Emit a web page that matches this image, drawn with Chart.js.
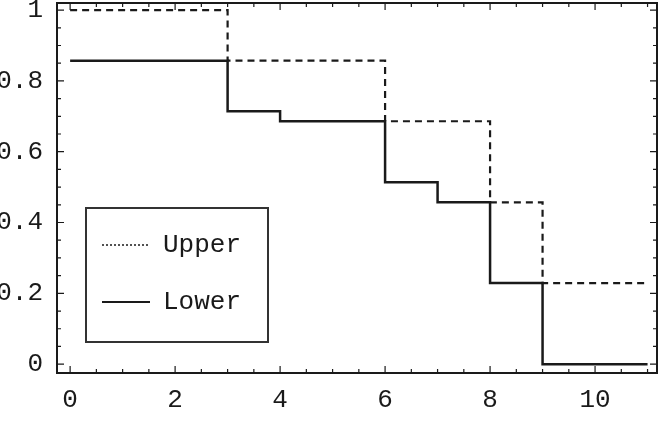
<!DOCTYPE html>
<html>
<head>
<meta charset="utf-8">
<script src="https://cdn.jsdelivr.net/npm/chart.js@4/dist/chart.umd.min.js"></script>
<style>
  html, body { margin: 0; padding: 0; background: #fff; }
  #wrap { width: 661px; height: 422px; }
</style>
</head>
<body>
<div id="wrap"><canvas id="steps"></canvas></div>
<script>
// Bornes superieure / inferieure (fonctions en escalier)
const upperX = [0, 3, 6, 8, 9, 11];
const upperY = [1, 0.857, 0.686, 0.457, 0.229, 0.229];
const lowerX = [0, 3, 4, 6, 7, 8, 9, 11];
const lowerY = [0.857, 0.714, 0.686, 0.514, 0.457, 0.229, 0, 0];
const xTicks = [0, 2, 4, 6, 8, 10];
const yTicks = [0, 0.2, 0.4, 0.6, 0.8, 1];
const seriesNames = ['Upper', 'Lower'];

const FONT = "'Liberation Mono', 'DejaVu Sans Mono', monospace";
const ink = '#1a1a1a';

// cadre + petites graduations vers l'interieur
const framePlugin = {
  id: 'frame',
  afterDraw(chart) {
    const { ctx, chartArea: a, scales } = chart;
    const xs = scales.x, ys = scales.y;
    ctx.save();
    ctx.strokeStyle = ink;
    ctx.lineWidth = 2;
    ctx.strokeRect(a.left, a.top, a.right - a.left, a.bottom - a.top);
    ctx.lineWidth = 1.2;
    for (let v = 0; v <= 11.01; v += 0.5) {
      const px = xs.getPixelForValue(v);
      const len = (Math.abs(v % 2) < 0.01) ? 7 : 4;
      ctx.beginPath();
      ctx.moveTo(px, a.bottom); ctx.lineTo(px, a.bottom - len);
      ctx.moveTo(px, a.top); ctx.lineTo(px, a.top + len);
      ctx.stroke();
    }
    for (let i = 0; i <= 20; i++) {
      const py = ys.getPixelForValue(i * 0.05);
      const len = (i % 4 === 0) ? 7 : 4;
      ctx.beginPath();
      ctx.moveTo(a.left, py); ctx.lineTo(a.left + len, py);
      ctx.moveTo(a.right, py); ctx.lineTo(a.right - len, py);
      ctx.stroke();
    }
    ctx.restore();
  }
};

// legende dans le graphe
const legendBox = {
  id: 'legendBox',
  afterDraw(chart) {
    const ctx = chart.ctx;
    ctx.save();
    ctx.fillStyle = '#fff';
    ctx.fillRect(86, 208, 182, 134);
    ctx.strokeStyle = '#333';
    ctx.lineWidth = 2;
    ctx.strokeRect(86, 208, 182, 134);
    ctx.strokeStyle = ink;
    ctx.lineWidth = 1.5;
    ctx.setLineDash([2, 2]);
    ctx.beginPath(); ctx.moveTo(102, 245); ctx.lineTo(150, 245); ctx.stroke();
    ctx.setLineDash([]);
    ctx.lineWidth = 2;
    ctx.beginPath(); ctx.moveTo(102, 302); ctx.lineTo(150, 302); ctx.stroke();
    ctx.fillStyle = ink;
    ctx.font = '26px ' + FONT;
    ctx.textBaseline = 'middle';
    ctx.fillText(seriesNames[0], 163, 245);
    ctx.fillText(seriesNames[1], 163, 302);
    ctx.restore();
  }
};

new Chart(document.getElementById('steps'), {
  type: 'line',
  data: {
    datasets: [{
      label: seriesNames[0],
      data: upperX.map((x, i) => ({ x: x, y: upperY[i] })),
      borderColor: ink,
      borderWidth: 2.2,
      borderDash: [7, 5],
      stepped: 'before',
      pointRadius: 0,
      fill: false
    }, {
      label: seriesNames[1],
      data: lowerX.map((x, i) => ({ x: x, y: lowerY[i] })),
      borderColor: ink,
      borderWidth: 2.5,
      stepped: 'before',
      pointRadius: 0,
      fill: false
    }]
  },
  options: {
    responsive: true,
    maintainAspectRatio: false,
    animation: false,
    layout: { autoPadding: false, padding: { top: 3, right: 4, left: 0, bottom: 0 } },
    plugins: { legend: { display: false }, tooltip: { enabled: false } },
    scales: {
      x: {
        type: 'linear',
        min: -0.25,
        max: 11.18,
        afterBuildTicks: s => { s.ticks = xTicks.map(v => ({ value: v })); },
        afterFit: s => { s.height = 49; s.paddingLeft = 0; s.paddingRight = 0; },
        grid: { display: false },
        border: { display: false },
        ticks: { color: ink, font: { family: FONT, size: 26 }, padding: 4, maxRotation: 0,
                 callback: v => String(v) }
      },
      y: {
        min: -0.025,
        max: 1.02,
        afterBuildTicks: s => { s.ticks = yTicks.map(v => ({ value: v })); },
        afterFit: s => { s.width = 57; s.paddingTop = 0; s.paddingBottom = 0; },
        grid: { display: false },
        border: { display: false },
        ticks: { color: ink, font: { family: FONT, size: 26 }, padding: 6,
                 callback: v => String(v) }
      }
    }
  },
  plugins: [framePlugin, legendBox]
});
</script>
</body>
</html>
